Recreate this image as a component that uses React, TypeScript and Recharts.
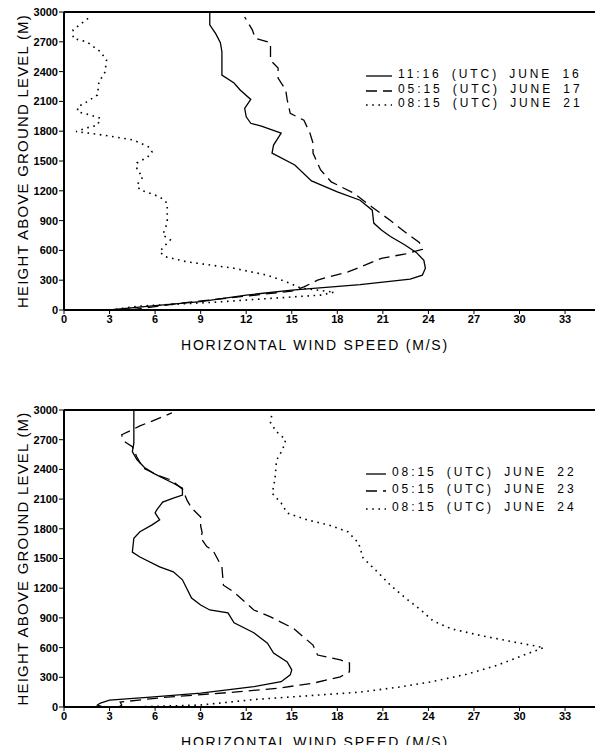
import { ScatterChart, Scatter, XAxis, YAxis, Legend } from "recharts";

const X_TICKS = [0, 3, 6, 9, 12, 15, 18, 21, 24, 27, 30, 33];
const Y_TICKS = [0, 300, 600, 900, 1200, 1500, 1800, 2100, 2400, 2700, 3000];
const X_MAX = 35.3;
const Y_MAX = 3000;

// top panel
const J16_SPEED = [3.0, 6.0, 9.0, 12.0, 15.0, 19.5, 21.0, 22.8, 23.6, 23.8, 23.7, 23.2, 22.4, 21.5, 20.9, 20.4, 20.3, 19.5, 18.0, 16.3, 15.2, 13.7, 13.8, 14.3, 13.0, 12.3, 12.0, 11.9, 12.3, 11.6, 11.2, 10.4, 10.4, 10.3, 10.0, 9.6, 9.6];
const J16_HEIGHT = [0, 45, 85, 150, 200, 255, 280, 310, 350, 420, 500, 580, 660, 740, 805, 875, 1005, 1105, 1190, 1300, 1460, 1580, 1660, 1780, 1850, 1880, 1945, 2030, 2120, 2215, 2285, 2365, 2600, 2690, 2780, 2870, 3000];

const J17_SPEED = [4.4, 8.0, 12.0, 15.0, 15.8, 16.7, 17.4, 18.7, 19.3, 20.9, 22.5, 23.6, 23.4, 22.5, 21.5, 20.3, 19.1, 17.6, 16.9, 16.4, 16.4, 16.2, 15.8, 14.9, 14.7, 14.6, 14.1, 14.1, 13.6, 13.6, 12.6, 12.4, 11.9];
const J17_HEIGHT = [0, 75, 140, 190, 232, 300, 332, 383, 420, 520, 565, 610, 680, 780, 900, 1035, 1175, 1290, 1410, 1580, 1680, 1780, 1910, 1980, 2115, 2215, 2335, 2435, 2515, 2690, 2735, 2820, 2950];

const J21_SPEED = [3.0, 5.0, 10.1, 13.4, 16.9, 17.8, 15.6, 14.7, 13.4, 11.2, 8.1, 6.7, 6.3, 6.5, 7.0, 6.5, 6.8, 6.8, 6.3, 5.0, 4.8, 5.2, 4.8, 4.8, 5.5, 5.8, 5.6, 4.6, 2.6, 1.7, 0.8, 1.4, 2.2, 2.4, 1.7, 0.9, 0.9, 1.5, 2.2, 2.3, 2.7, 2.8, 2.4, 1.5, 0.6, 0.6, 1.2, 1.7];
const J21_HEIGHT = [0, 40, 80, 115, 150, 180, 220, 280, 350, 420, 485, 535, 585, 625, 705, 755, 875, 1075, 1140, 1210, 1260, 1340, 1410, 1480, 1540, 1590, 1640, 1710, 1760, 1780, 1795, 1830, 1860, 1930, 1965, 1995, 2045, 2095, 2165, 2295, 2395, 2515, 2600, 2700, 2735, 2820, 2890, 2950];

// bottom panel
const J22_SPEED = [2.6, 2.2, 2.4, 3.0, 5.7, 9.0, 12.5, 14.3, 14.9, 15.0, 14.7, 13.8, 13.4, 12.5, 11.2, 10.8, 9.6, 9.0, 8.4, 7.8, 7.2, 6.3, 5.0, 4.5, 4.6, 5.0, 5.8, 6.3, 6.0, 6.1, 6.5, 7.2, 7.8, 7.8, 7.2, 5.9, 5.3, 4.8, 4.5, 4.6, 4.6, 4.6];
const J22_HEIGHT = [0, 20, 40, 70, 100, 140, 205, 255, 325, 375, 455, 545, 645, 750, 850, 950, 980, 1030, 1100, 1285, 1365, 1415, 1515, 1565, 1705, 1770, 1840, 1890, 1960, 1990, 2070, 2110, 2140, 2210, 2260, 2360, 2420, 2500, 2580, 2665, 2730, 3000];

const J23_SPEED = [3.6, 3.8, 3.7, 6.8, 11.2, 14.1, 16.4, 18.2, 18.8, 18.8, 18.2, 16.7, 16.4, 15.1, 13.6, 12.5, 11.2, 10.5, 10.4, 9.8, 9.4, 9.0, 9.1, 9.0, 9.0, 8.4, 8.1, 7.8, 7.1, 6.2, 5.2, 4.8, 4.5, 3.9, 3.8, 4.5, 5.0, 6.0, 7.1];
const J23_HEIGHT = [0, 20, 50, 100, 150, 190, 240, 305, 355, 445, 475, 525, 625, 795, 910, 980, 1160, 1230, 1415, 1585, 1620, 1710, 1760, 1830, 1920, 2010, 2090, 2200, 2290, 2340, 2415, 2525, 2630, 2690, 2750, 2800, 2840, 2900, 2970];

const J24_SPEED = [4.5, 9.0, 12.5, 17.6, 19.5, 22.0, 24.2, 26.5, 28.5, 30.2, 31.6, 29.5, 27.5, 25.5, 24.3, 23.5, 22.5, 21.5, 20.7, 19.7, 19.4, 18.7, 17.4, 16.0, 14.7, 14.3, 13.7, 13.8, 13.9, 14.0, 14.4, 14.6, 14.0, 13.6, 13.7];
const J24_HEIGHT = [0, 20, 75, 130, 150, 200, 255, 330, 420, 520, 600, 660, 720, 790, 870, 980, 1100, 1230, 1355, 1505, 1655, 1770, 1840, 1890, 1960, 2060, 2160, 2220, 2315, 2495, 2600, 2700, 2780, 2870, 2970];

const toPoints = (speed: number[], height: number[]) =>
    speed.map((s, i) => ({ speed: s, height: height[i] }));

const SOLID = undefined;
const DASHED = "11 6";
const DOTTED = "1.6 4.6";

const TOP_SERIES = [
    { name: "11:16 (UTC) JUNE 16", data: toPoints(J16_SPEED, J16_HEIGHT), dash: SOLID },
    { name: "05:15 (UTC) JUNE 17", data: toPoints(J17_SPEED, J17_HEIGHT), dash: DASHED },
    { name: "08:15 (UTC) JUNE 21", data: toPoints(J21_SPEED, J21_HEIGHT), dash: DOTTED },
];

const BOTTOM_SERIES = [
    { name: "08:15 (UTC) JUNE 22", data: toPoints(J22_SPEED, J22_HEIGHT), dash: SOLID },
    { name: "05:15 (UTC) JUNE 23", data: toPoints(J23_SPEED, J23_HEIGHT), dash: DASHED },
    { name: "08:15 (UTC) JUNE 24", data: toPoints(J24_SPEED, J24_HEIGHT), dash: DOTTED },
];

type Series = { name: string; data: { speed: number; height: number }[]; dash?: string };

const FONT = '"Liberation Sans", Arial, sans-serif';
const tickStyle = { fontSize: 11, fontWeight: 700, fill: "#000", fontFamily: FONT };

const YTitle = ({ viewBox }: any) => {
    const cx = viewBox.x + 22;
    const cy = viewBox.y + viewBox.height / 2;
    return (
        <text x={cx} y={cy} transform={`rotate(-90 ${cx} ${cy})`} textAnchor="middle" dominantBaseline="central"
            style={{ fontSize: 15, letterSpacing: 1.2, fontFamily: FONT, fill: "#000" }}>
            HEIGHT ABOVE GROUND LEVEL (M)
        </text>
    );
};

const XTitle = ({ viewBox, bottomGap }: any) => (
    <text x={viewBox.x + viewBox.width / 2 - 17} y={viewBox.y + viewBox.height - bottomGap} textAnchor="middle"
        style={{ fontSize: 14, letterSpacing: 1.8, fontFamily: FONT, fill: "#000" }}>
        HORIZONTAL WIND SPEED (M/S)
    </text>
);

function LegendBox({ series, rowH, sampleW }: { series: Series[]; rowH: number; sampleW: number }) {
    return (
        <div style={{ fontFamily: FONT, fontSize: 12, letterSpacing: 2.9, wordSpacing: 4, color: "#000" }}>
            {series.map((s) => (
                <div key={s.name} style={{ height: rowH, display: "flex", alignItems: "center", whiteSpace: "pre" }}>
                    <svg width={sampleW + 4} height={10} style={{ marginRight: 2 }}>
                        <line x1={0} y1={7} x2={sampleW} y2={7} stroke="#000" strokeWidth={1.3} strokeDasharray={s.dash} />
                    </svg>
                    <span>{s.name}</span>
                </div>
            ))}
        </div>
    );
}

// top + right edges of the plot box, as filled strips (the chart's axes draw left and bottom)
const Frame = ({ top, height }: { top: number; height: number }) => (
    <>
        <div style={{ position: "absolute", left: 64, top, width: 537, height: 2, background: "#000", zIndex: 5 }} />
        <div style={{ position: "absolute", left: 599, top, width: 2, height, background: "#000", zIndex: 5 }} />
    </>
);

function Panel({ series, height, xAxisH, titleGap, legendTop, legendRowH, sampleW }: {
    series: Series[]; height: number; xAxisH: number; titleGap: number; legendTop: number; legendRowH: number; sampleW: number;
}) {
    return (
        <ScatterChart width={603} height={height} margin={{ top: 12, right: 3, left: 0, bottom: 0 }}>
            <XAxis type="number" dataKey="speed" domain={[0, X_MAX]} ticks={X_TICKS} allowDataOverflow
                height={xAxisH} tick={tickStyle} tickSize={4} tickMargin={1}
                axisLine={{ stroke: "#000", strokeWidth: 2 }} tickLine={{ stroke: "#000" }}
                label={<XTitle bottomGap={titleGap} />} />
            <YAxis type="number" dataKey="height" domain={[0, Y_MAX]} ticks={Y_TICKS} allowDataOverflow
                width={64} tick={tickStyle} tickSize={5} tickMargin={1}
                axisLine={{ stroke: "#000", strokeWidth: 2 }} tickLine={{ stroke: "#000" }}
                label={<YTitle />} />
            <Legend layout="vertical" align="center" verticalAlign="middle"
                wrapperStyle={{ top: legendTop, left: 366, width: 236 }}
                content={() => <LegendBox series={series} rowH={legendRowH} sampleW={sampleW} />} />
            {series.map((s) => (
                <Scatter key={s.name} name={s.name} data={s.data} fill="#000" isAnimationActive={false}
                    line={{ stroke: "#000", strokeWidth: s.dash === DOTTED ? 1.6 : 1.3, strokeDasharray: s.dash }}
                    shape={() => <g />} />
            ))}
        </ScatterChart>
    );
}

export default function App() {
    return (
        <div style={{ position: "relative", width: 603, height: 753, margin: -8, background: "#fff", fontFamily: FONT }}>
            <div style={{ position: "absolute", left: 0, top: 0 }}>
                <Panel series={TOP_SERIES} height={360} xAxisH={50} titleGap={10} legendTop={67} legendRowH={14.5} sampleW={26} />
            </div>
            <div style={{ position: "absolute", left: 0, top: 398 }}>
                <Panel series={BOTTOM_SERIES} height={355} xAxisH={46} titleGap={6} legendTop={65} legendRowH={17.5} sampleW={20} />
            </div>
            <Frame top={11} height={299} />
            <Frame top={409} height={298} />
        </div>
    );
}
